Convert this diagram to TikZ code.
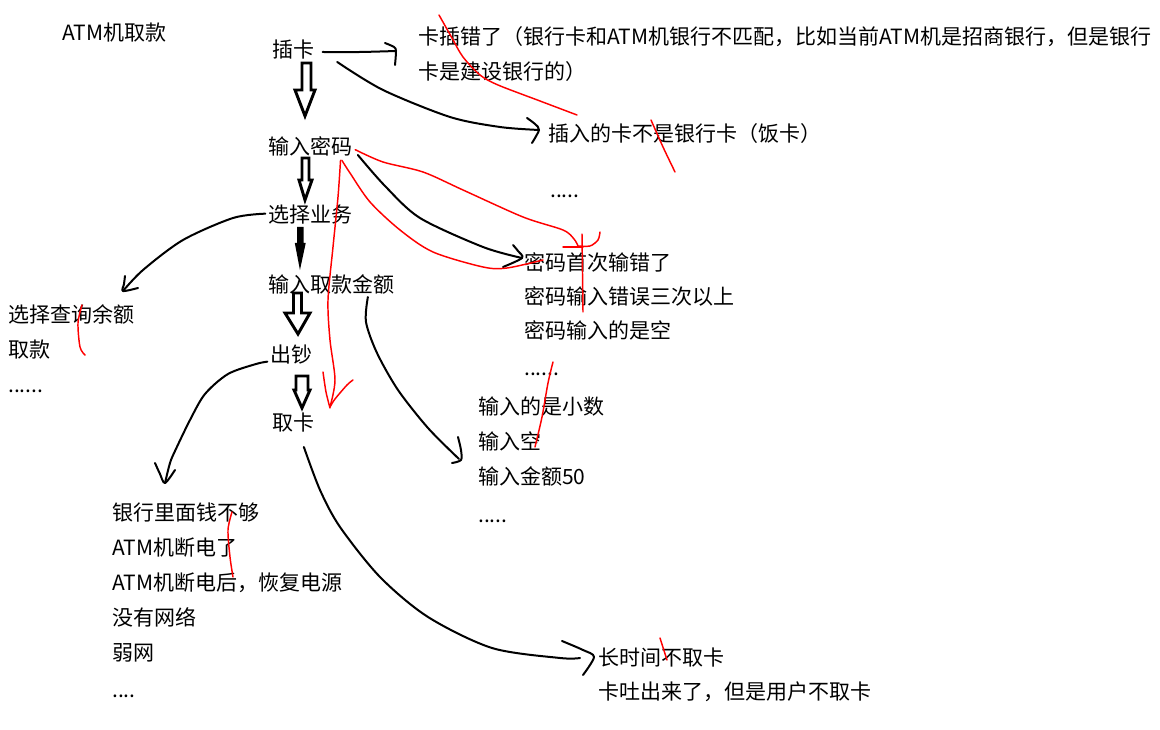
\documentclass[tikz,border=0pt]{standalone}
\usepackage{fontspec}
\newfontfamily\cjk{Noto Sans CJK SC}
\newcommand\ddsix{......}
\newcommand\ddfive{.....}
\newcommand\ddfour{....}
\begin{document}
\begin{tikzpicture}[x=0.75pt,y=-0.75pt,
  txt/.style={font=\cjk\fontsize{15.75pt}{18pt}\selectfont, anchor=west, inner sep=0pt, text height=13pt, text depth=1.1pt},
  hand/.style={draw=black, line width=1.5pt, line cap=round, line join=round},
  redline/.style={draw=red, line width=1.1pt, line cap=round, line join=round},
  blockarr/.style={draw=black, line width=2.2pt, fill=white, line join=miter},
  blockfill/.style={draw=black, line width=1.5pt, fill=black, line join=miter}]
\useasboundingbox[fill=white] (0,0) rectangle (1160,730);

% ---- main flow nodes ----
\node[txt] (title) at (62,33) {ATM机取款};
\node[txt] (card) at (272,50) {插卡};
\node[txt] (pwd) at (268,147) {输入密码};
\node[txt] (biz) at (268,215) {选择业务};
\node[txt] (amt) at (268,285) {输入取款金额};
\node[txt] (cash) at (270,355) {出钞};
\node[txt] (take) at (272,423) {取卡};

% ---- side lists ----
\node[txt] (w1) at (418,37) {卡插错了（银行卡和ATM机银行不匹配，比如当前ATM机是招商银行，但是银行};
\node[txt] (w2) at (418,72) {卡是建设银行的）};
\node[txt] (nb) at (548,134) {插入的卡不是银行卡（饭卡）};
\node[txt] (nbd) at (550,190) {\ddfive};

\foreach \t/\y [count=\i] in {选择查询余额/315, 取款/350, \ddsix/385}
  \node[txt] (q\i) at (8,\y) {\t};
\foreach \t/\y [count=\i] in {密码首次输错了/263, 密码输入错误三次以上/297, 密码输入的是空/331, \ddsix/368}
  \node[txt] (p\i) at (524,\y) {\t};
\foreach \t/\y [count=\i] in {输入的是小数/407, 输入空/442, 输入金额50/477, \ddfive/515}
  \node[txt] (a\i) at (478,\y) {\t};
\foreach \t/\y [count=\i] in {银行里面钱不够/513, ATM机断电了/548, ATM机断电后，恢复电源/583, 没有网络/618, 弱网/653, \ddfour/690}
  \node[txt] (b\i) at (112,\y) {\t};
\node[txt] (t1) at (598,658) {长时间不取卡};
\node[txt] (t2) at (598,692) {卡吐出来了，但是用户不取卡};

% ---- block arrows of the main flow ----
\coordinate (ba1) at (305,116);
\draw[blockarr] (ba1) -- (295,90) -- (302,90) -- (302,63) -- (311,63) -- (311,90) -- (315,90) -- cycle;
\coordinate (ba2) at (305,200);
\draw[blockarr] (ba2) -- (299,180) -- (302,180) -- (302,158) -- (309,158) -- (309,180) -- (312,180) -- cycle;
\coordinate (ba3) at (300,265);
\draw[blockfill] (ba3) -- (296,244) -- (298,244) -- (298,228) -- (302.5,228) -- (302.5,244) -- (304.5,244) -- cycle;
\coordinate (ba4) at (298,334);
\draw[blockarr] (ba4) -- (285,313) -- (293.5,313) -- (293.5,293) -- (301.5,293) -- (301.5,313) -- (310,313) -- cycle;
\coordinate (ba5) at (302,408);
\draw[blockarr] (ba5) -- (294,390) -- (296,390) -- (296,376) -- (308,376) -- (308,390) -- (310,390) -- cycle;

% ---- black hand-drawn connectors ----
\coordinate (c1e) at (396,51);
\draw[hand] plot[smooth] coordinates {([xshift=6pt,yshift=-1.5pt]card.east) (360,52) (c1e)};
\draw[hand] plot[smooth] coordinates {(385,43) (394,47) (c1e) (395,65)};

\coordinate (c2e) at (539,130);
\draw[hand] plot[smooth] coordinates {([xshift=17pt,yshift=-9pt]card.east) (383,90) (450,117) (500,127) (c2e)};
\draw[hand] plot[smooth] coordinates {(527,118) (535,124) (c2e) (532,143)};

\coordinate (c3e) at (522,258);
\draw[hand] plot[smooth] coordinates {([xshift=4pt,yshift=-6pt]pwd.east) (385,186) (420,218) (483,247) (c3e)};
\draw[hand] plot[smooth] coordinates {(513,245) (518,251) (c3e) (503,267)};

\coordinate (c4e) at (123,291);
\draw[hand] plot[smooth] coordinates {([xshift=-2pt,yshift=1pt]biz.west) (233,218) (183,240) (143,270) (c4e)};
\draw[hand] plot[smooth] coordinates {(125,276) (124,284) (c4e) (138,288)};

\coordinate (c5e) at (165,483);
\draw[hand] plot[smooth] coordinates {([xshift=-2pt,yshift=-5pt]cash.west) (256,364) (228,374) (205,394) (190,420) (175,451) (170,463) (c5e)};
\draw[hand] plot[smooth] coordinates {(155,463) (160,474) (c5e) (175,470)};

\coordinate (c6e) at (459,459);
\draw[hand] plot[smooth] coordinates {([xshift=-20pt,yshift=-9pt]amt.east) (366,322) (377,353) (398,390) (428,428) (c6e)};
\draw[hand] plot[smooth] coordinates {(458,437) (461,450) (461,460) (452,463)};

\coordinate (c7e) at (594,657);
\draw[hand] plot[smooth] coordinates {([xshift=-8pt,yshift=-18pt]take.east) (320,490) (340,527) (380,577) (428,617) (492,648) (560,658) (580,658)};
\draw[hand] plot[smooth] coordinates {(562,641) (583,650) (c7e) (583,675)};

% ---- red annotation strokes ----
\draw[redline] plot[smooth] coordinates {(439,15) (452,38) (463,57) (480,75) (498,85) (540,101) (577,115)};
\draw[redline] plot[smooth] coordinates {(651,120) (663,147) (675,172)};
\draw[redline] plot[smooth] coordinates {([xshift=2pt,yshift=-2pt]pwd.east) (383,162) (423,172) (463,190) (523,217) (563,230) (574,239) (578,246)};
\draw[redline] (563,247) -- (583,247);
\draw[redline] plot[smooth] coordinates {(578,246) (590,246) (598,240) (600,232)};
\draw[redline] (582,234) -- (583,312);
\draw[redline] plot[smooth] coordinates {([xshift=-8pt,yshift=-10pt]pwd.east) (350,173) (370,202) (400,230) (433,252) (483,267) (507,268) (543,260)};
\draw[redline] plot[smooth] coordinates {([xshift=-9pt,yshift=-10pt]pwd.east) (338,197) (333,247) (328,300) (330,340) (335,380) (330,407)};
\draw[redline] plot[smooth] coordinates {(323,372) (326,392) (330,408)};
\draw[redline] plot[smooth] coordinates {(353,380) (347,385) (335,399) (330,407)};
\draw[redline] plot[smooth] coordinates {(82,305) (78,323) (80,347) (85,355)};
\draw[redline] plot[smooth] coordinates {(553,362) (548,383) (542,417) (535,447)};
\draw[redline] plot[smooth] coordinates {(232,512) (228,530) (230,557) (233,577)};
\draw[redline] (660,638) -- (667,660);
\end{tikzpicture}
\end{document}
